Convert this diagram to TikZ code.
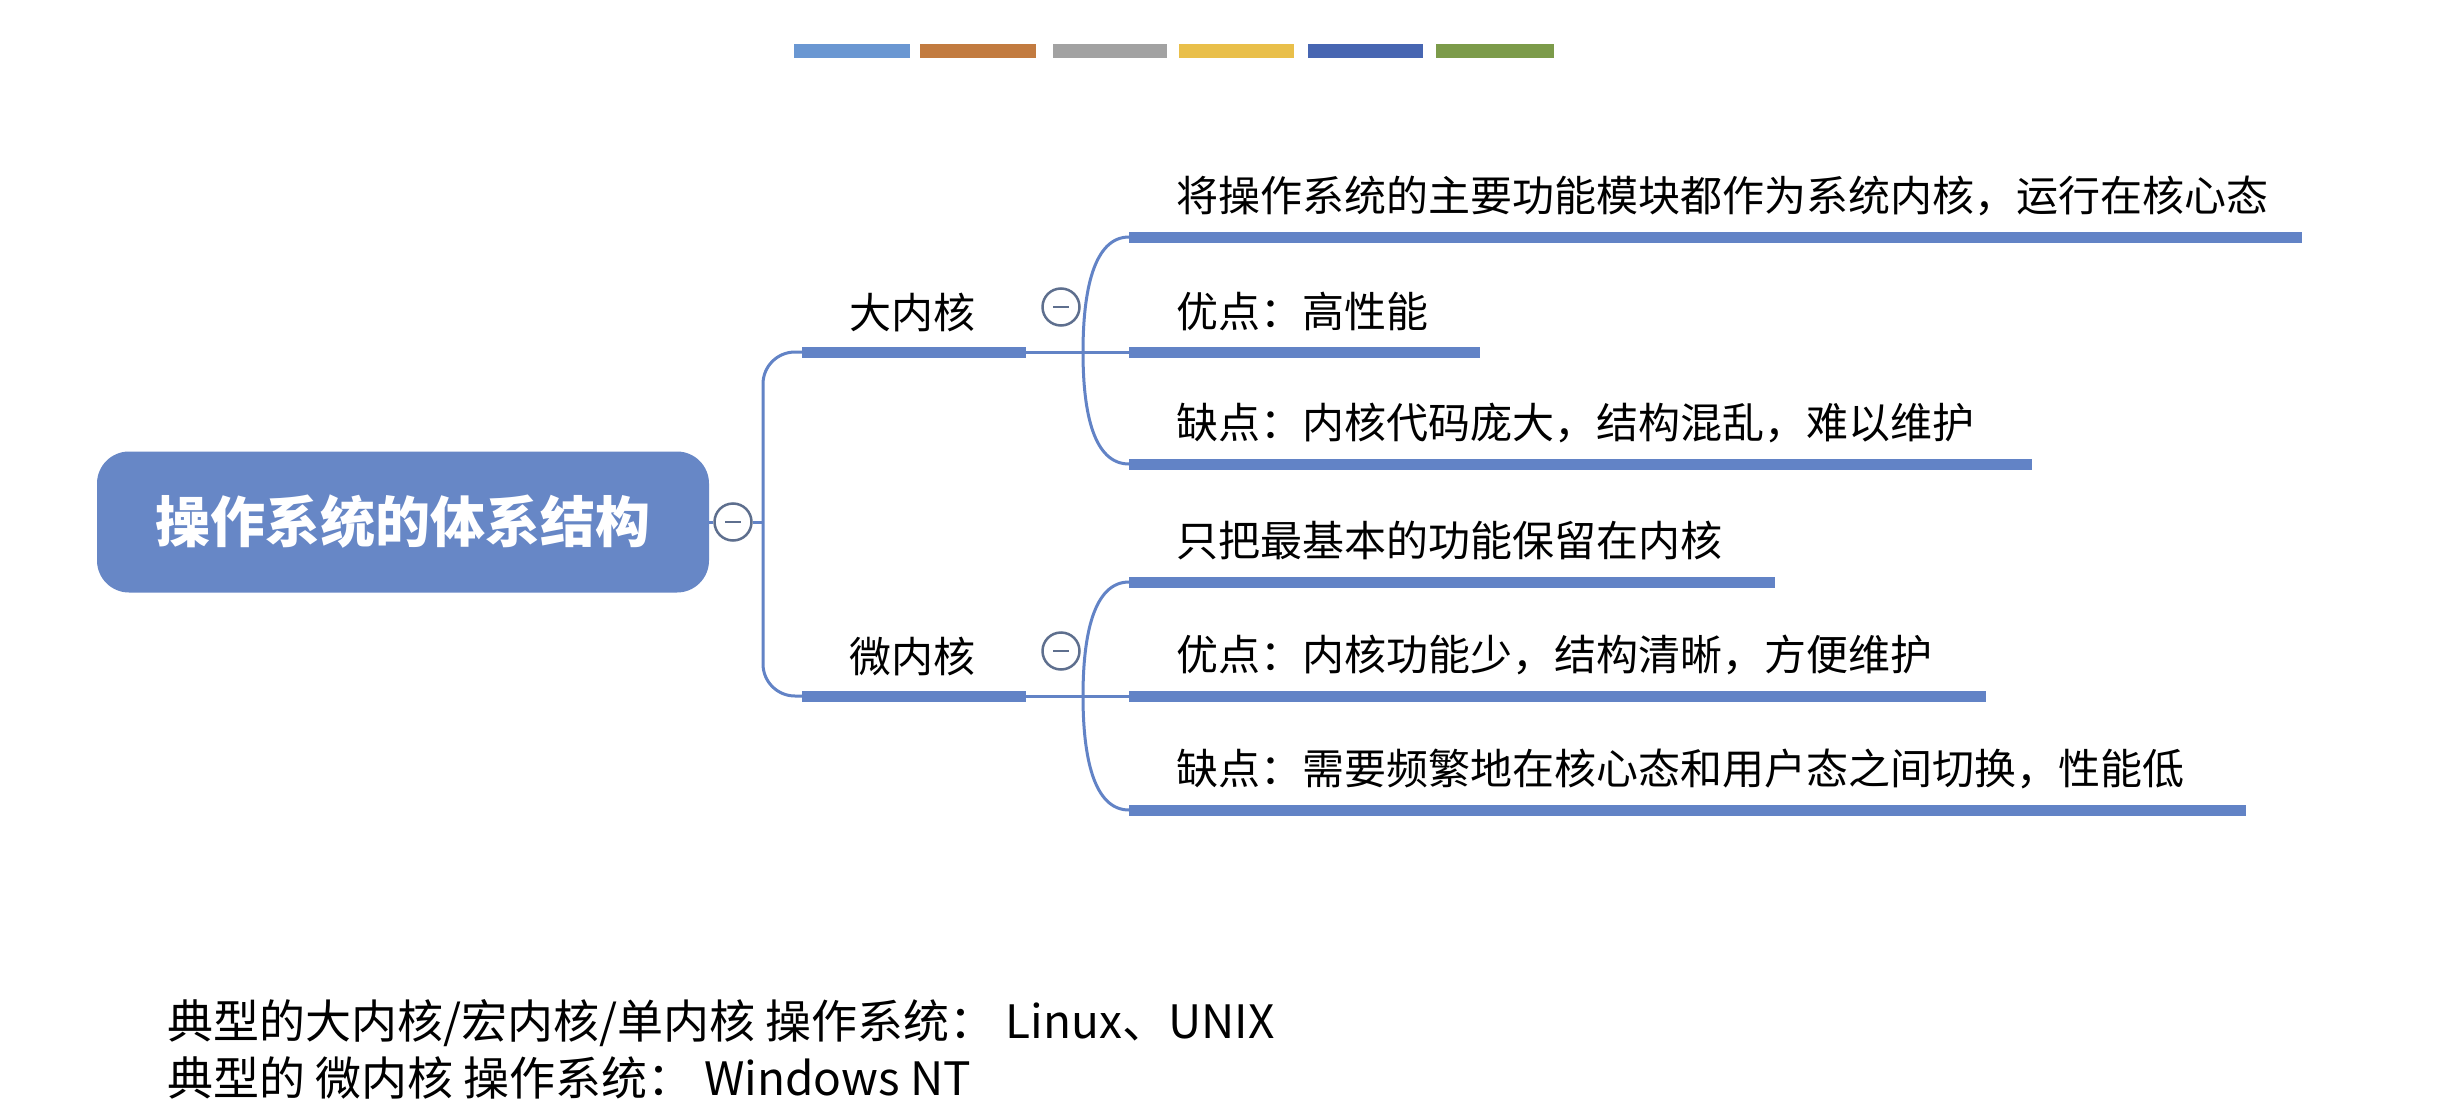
\documentclass[tikz,border=0pt]{standalone}
\usepackage{fontspec}
\setmainfont{Noto Sans CJK SC}
\definecolor{lineblue}{HTML}{6283C6}
\definecolor{rootfill}{HTML}{6787C6}
\definecolor{togglec}{HTML}{5E6F8E}
\definecolor{barA}{HTML}{6A97D2}
\definecolor{barB}{HTML}{C27B40}
\definecolor{barC}{HTML}{A2A2A2}
\definecolor{barD}{HTML}{E9BF4A}
\definecolor{barE}{HTML}{4766B2}
\definecolor{barF}{HTML}{7C9B4A}
\tikzset{
  thinline/.style={draw=lineblue, line width=3pt},
  thickline/.style={draw=lineblue, line width=11pt},
  leaf/.style={anchor=west, inner sep=0pt, text=black, font=\fontsize{42}{50}\selectfont},
  foot/.style={anchor=west, inner sep=0pt, text=black, font=\fontsize{46}{54}\selectfont},
  toggle/.style={circle, draw=togglec, line width=2.5pt, fill=white, minimum size=37pt, inner sep=0pt,
    path picture={\draw[togglec, line width=2.5pt] ([xshift=-8pt]path picture bounding box.center) -- ([xshift=8pt]path picture bounding box.center);}},
  rootbox/.style={rectangle, rounded corners=32pt, fill=rootfill, text=white, minimum width=612pt, minimum height=141pt, font=\fontsize{55}{60}\selectfont\bfseries}
}
\begin{document}
\begin{tikzpicture}[x=1pt, y=-1pt]
\useasboundingbox[fill=white] (0,0) rectangle (2442,1116);
% colour bars
\fill[barA] (794,44) rectangle (910,58);
\fill[barB] (920,44) rectangle (1036,58);
\fill[barC] (1053,44) rectangle (1167,58);
\fill[barD] (1179,44) rectangle (1294,58);
\fill[barE] (1308,44) rectangle (1423,58);
\fill[barF] (1436,44) rectangle (1554,58);

% root
\node[rootbox] (root) at (403,522) {操作系统的体系结构};
\node[toggle] (rt) at (733,522) {};
\coordinate (fork) at (763,522);
\draw[thinline] (root.east) -- (rt.west);
\draw[thinline] (rt.east) -- (fork);

% branch 1: 大内核
\coordinate (b1s) at (802,352); \coordinate (b1e) at (1026,352);
\node[leaf] (b1) at (849,312) {大内核};
\draw[thickline] (b1s) -- (b1e);
\node[toggle] (t1) at (1061,307) {};

% branch 2: 微内核
\coordinate (b2s) at (802,696); \coordinate (b2e) at (1026,696);
\node[leaf] (b2) at (849,656) {微内核};
\draw[thickline] (b2s) -- (b2e);
\node[toggle] (t2) at (1061,651) {};

\draw[thinline, rounded corners=32pt] (b1s) -| (fork) |- (b2s);

% leaves of 大内核
\coordinate (c1s) at (1129,237); \coordinate (c1e) at (2302,237);
\coordinate (c2s) at (1129,352); \coordinate (c2e) at (1480,352);
\coordinate (c3s) at (1129,464); \coordinate (c3e) at (2032,464);
\node[leaf] (c1) at (1176,196) {将操作系统的主要功能模块都作为系统内核，运行在核心态};
\node[leaf] (c2) at (1176,311) {优点：高性能};
\node[leaf] (c3) at (1176,423) {缺点：内核代码庞大，结构混乱，难以维护};
\draw[thickline] (c1s) -- (c1e);
\draw[thickline] (c2s) -- (c2e);
\draw[thickline] (c3s) -- (c3e);
\coordinate (k1) at (1083,352);
\draw[thinline] (b1e) -- (c2s);
\draw[thinline] (c1s) .. controls (1094,237) and (1083,290) .. (k1) .. controls (1083,414) and (1094,464) .. (c3s);

% leaves of 微内核
\coordinate (d1s) at (1129,582); \coordinate (d1e) at (1775,582);
\coordinate (d2s) at (1129,696); \coordinate (d2e) at (1986,696);
\coordinate (d3s) at (1129,810); \coordinate (d3e) at (2246,810);
\node[leaf] (d1) at (1176,541) {只把最基本的功能保留在内核};
\node[leaf] (d2) at (1176,655) {优点：内核功能少，结构清晰，方便维护};
\node[leaf] (d3) at (1176,769) {缺点：需要频繁地在核心态和用户态之间切换，性能低};
\draw[thickline] (d1s) -- (d1e);
\draw[thickline] (d2s) -- (d2e);
\draw[thickline] (d3s) -- (d3e);
\coordinate (k2) at (1083,696);
\draw[thinline] (b2e) -- (d2s);
\draw[thinline] (d1s) .. controls (1094,582) and (1083,634) .. (k2) .. controls (1083,758) and (1094,810) .. (d3s);

% footnotes
\node[foot] (f1) at (167,1023) {典型的大内核/宏内核/单内核 操作系统： Linux、UNIX};
\node[foot] (f2) at (167,1078) {典型的 微内核 操作系统： Windows NT};
\end{tikzpicture}
\end{document}
